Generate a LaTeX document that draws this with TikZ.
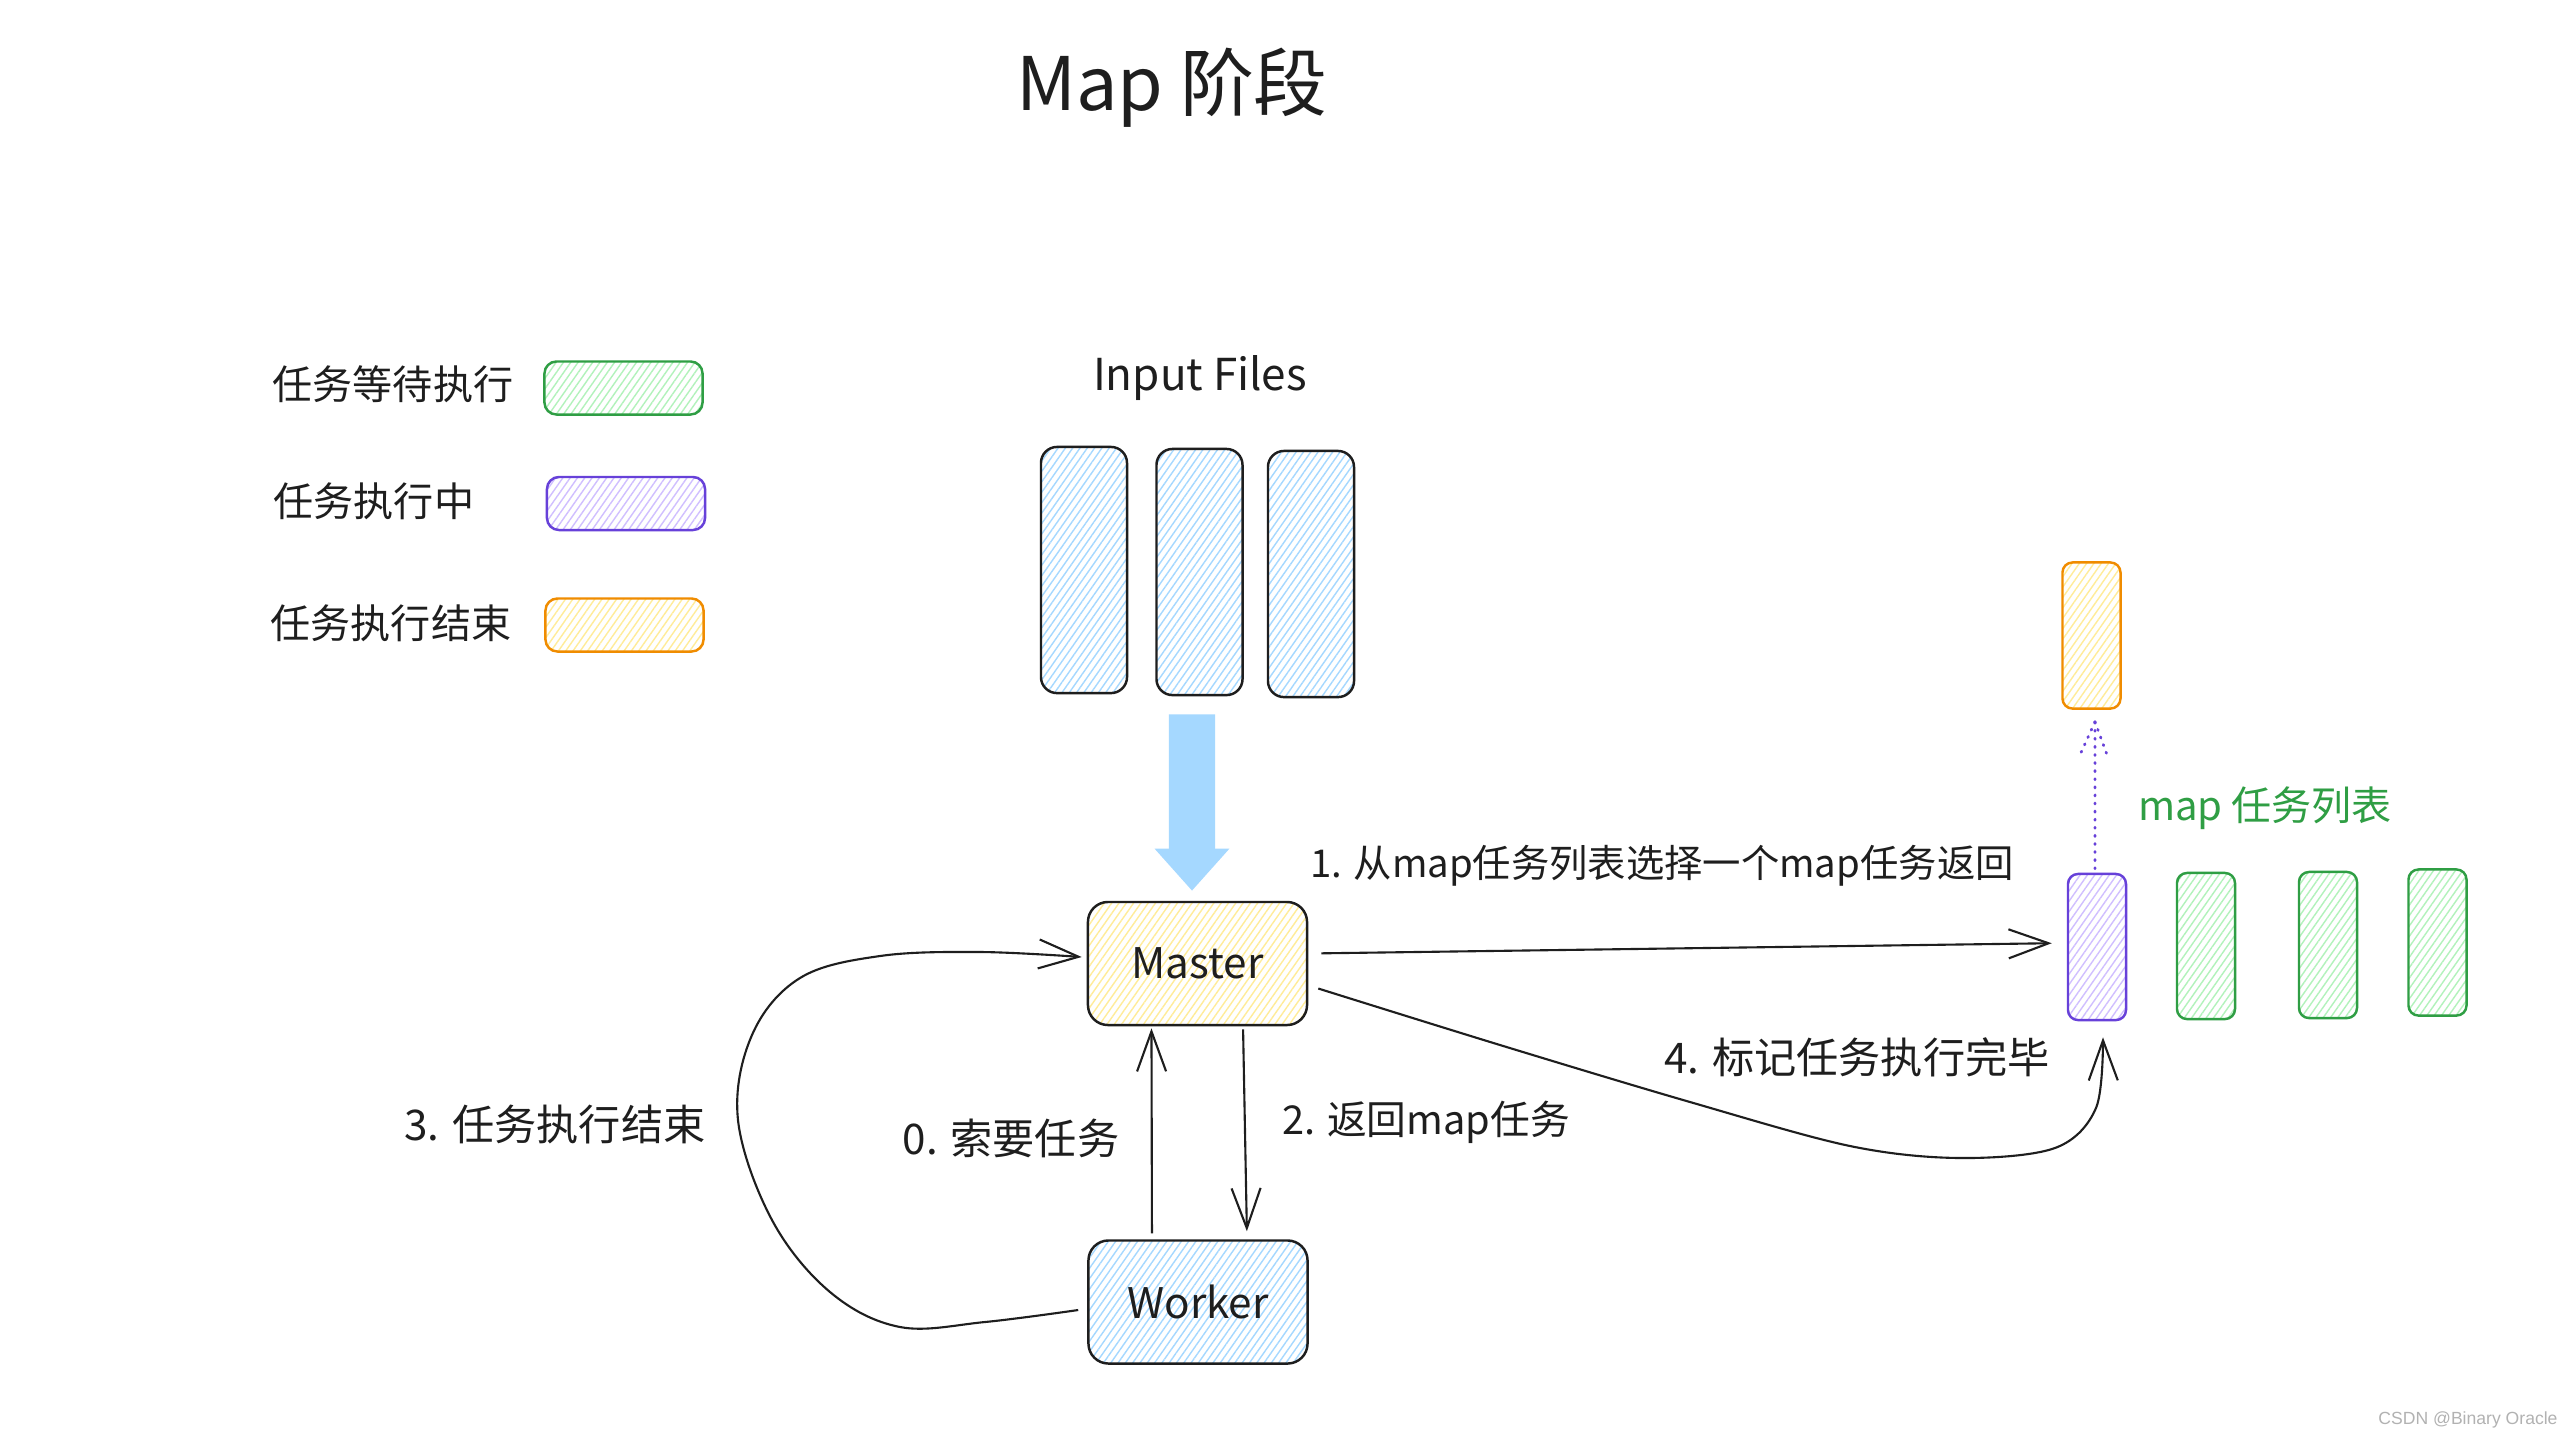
\documentclass[tikz,border=0pt]{standalone}
\usepackage{fontspec}
\usetikzlibrary{arrows.meta,patterns.meta,calc}
\newfontfamily\cjk{Noto Sans CJK SC}
\newfontfamily\wmfont{Liberation Sans}
\definecolor{ink}{HTML}{1E1E1E}
\definecolor{hblue}{HTML}{A5D8FF}
\definecolor{hyellow}{HTML}{FFEC99}
\definecolor{hgreen}{HTML}{B2F2BB}
\definecolor{hviolet}{HTML}{D0BFFF}
\definecolor{sgreen}{HTML}{2F9E44}
\definecolor{sviolet}{HTML}{6741D9}
\definecolor{sorange}{HTML}{F08C00}
\begin{document}
\begin{tikzpicture}[x=0.01cm,y=-0.01cm,
  hatch/.style={pattern={Lines[angle=55,distance=1.7pt,line width=0.4pt]}, pattern color=#1},
  filebox/.style={draw=ink, line width=0.7pt, rounded corners=0.16cm, hatch=hblue,
    minimum width=0.86cm, minimum height=2.46cm, inner sep=0pt},
  procbox/.style={draw=ink, line width=0.7pt, rounded corners=0.2cm,
    minimum width=2.19cm, minimum height=1.23cm, inner sep=0pt,
    font=\cjk\fontsize{12}{14}\selectfont, text=ink},
  legbox/.style={line width=0.7pt, rounded corners=0.12cm,
    minimum width=1.58cm, minimum height=0.53cm, inner sep=0pt},
  taskbox/.style={line width=0.7pt, rounded corners=0.1cm,
    minimum width=0.58cm, minimum height=1.46cm, inner sep=0pt},
  waitbox/.style={draw=sgreen, hatch=hgreen},
  runbox/.style={draw=sviolet, hatch=hviolet},
  donebox/.style={draw=sorange, hatch=hyellow},
  lbl/.style={font=\cjk\fontsize{12}{14}\selectfont, text=ink, inner sep=0pt},
  leglbl/.style={font=\cjk\fontsize{11.4}{14}\selectfont, text=ink, inner sep=0pt, anchor=west},
  arr/.style={draw=ink, line width=0.6pt, -{Straight Barb[length=0.4cm,width=0.29cm]}},
  dotline/.style={draw=sviolet, line width=0.8pt, line cap=round, dash pattern=on 0.3pt off 2pt}
]
\fill[white] (0,0) rectangle (2574,1438);
\useasboundingbox (0,0) rectangle (2574,1438);

% title
\node[font=\cjk\fontsize{21}{25}\selectfont, text=ink, inner sep=0pt] (title) at (1172,88) {Map 阶段};

% legend
\node[leglbl] (lwait) at (272,384) {任务等待执行};
\node[leglbl] (lrun) at (273,501) {任务执行中};
\node[leglbl] (ldone) at (270,623) {任务执行结束};
\node[legbox, waitbox] (kwait) at (623.5,388) {};
\node[legbox, runbox] (krun) at (626,503.5) {};
\node[legbox, donebox] (kdone) at (624.5,625) {};

% input files
\node[font=\cjk\fontsize{12.5}{15}\selectfont, text=ink, inner sep=0pt] (inlbl) at (1200,378) {Input Files};
\node[filebox] (f1) at (1084,570) {};
\node[filebox] (f2) at (1199.5,572) {};
\node[filebox] (f3) at (1311,574) {};

% master / worker
\node[procbox, hatch=hyellow] (master) at (1197.5,963.5) {Master};
\node[procbox, hatch=hblue] (worker) at (1198,1302) {Worker};

% big blue arrow
\draw[draw=hblue, line width=0.46cm, -{Triangle[length=0.42cm,width=0.72cm]},
  shorten <=0.18cm, shorten >=0.10cm]
  ([xshift=-0.075cm]f2.south) -- ([xshift=-0.055cm]master.north);

% map task list
\node[taskbox, runbox] (run) at (2097,947) {};
\node[taskbox, waitbox] (g1) at (2206,946) {};
\node[taskbox, waitbox] (g2) at (2328,945) {};
\node[taskbox, waitbox] (g3) at (2437.5,942.5) {};
\node[taskbox, donebox] (done) at (2091.5,635.5) {};
\node[font=\cjk\fontsize{11.4}{14}\selectfont, text=sgreen, inner sep=0pt] (maplist) at (2265,808) {map 任务列表};

% dotted arrow run -> done
\coordinate (dtip) at ([xshift=0.035cm,yshift=-0.12cm]done.south);
\draw[dotline] ([xshift=-0.02cm,yshift=0.04cm]run.north) -- (dtip);
\draw[dotline] (dtip) -- ++(-15,33);
\draw[dotline] (dtip) -- ++(12,33);

% arrow 1
\draw[arr, shorten <=0.13cm, shorten >=0.15cm] ([yshift=0.1cm]master.east) -- ([yshift=0.04cm]run.west);
\node[lbl, font=\cjk\fontsize{10.9}{13}\selectfont] (l1) at (1662,866) {1. 从map任务列表选择一个map任务返回};

% arrow 0 and 2
\draw[arr, shorten <=0.06cm, shorten >=0.02cm] ([xshift=-0.46cm]worker.north) -- ([xshift=-0.46cm]master.south);
\draw[arr, shorten <=0.03cm, shorten >=0.08cm] ([xshift=0.455cm]master.south) -- ([xshift=0.49cm]worker.north);
\node[lbl] (l0) at (1011,1138) {0. 索要任务};
\node[lbl, font=\cjk\fontsize{11.3}{13}\selectfont] (l2) at (1426,1122) {2. 返回map任务};

% arrow 3
\coordinate (a3s) at ([xshift=-0.09cm,yshift=-0.08cm]worker.west);
\coordinate (a3e) at ([xshift=-0.05cm,yshift=0.065cm]master.west);
\draw[arr] plot[smooth, tension=0.6] coordinates {(a3s) (985,1322) (900,1327) (830,1292) (772,1220) (738,1120) (752,1035) (800,978) (880,956) (980,952) (a3e)};
\node[lbl] (l3) at (555,1124) {3. 任务执行结束};

% arrow 4
\coordinate (a4s) at ([xshift=0.1cm,yshift=-0.25cm]master.east);
\coordinate (a4e) at ([xshift=0.06cm,yshift=-0.16cm]run.south);
\draw[arr] plot[smooth, tension=0.55] coordinates {(a4s) (1500,1045) (1690,1102) (1850,1146) (1960,1158) (2055,1148) (2096,1108) (a4e)};
\node[lbl] (l4) at (1857,1057) {4. 标记任务执行完毕};

% watermark
\node[font=\wmfont\fontsize{5}{6}\selectfont, text=gray!60, inner sep=0pt] (wm) at (2468,1420) {CSDN @Binary Oracle};
\end{tikzpicture}
\end{document}
